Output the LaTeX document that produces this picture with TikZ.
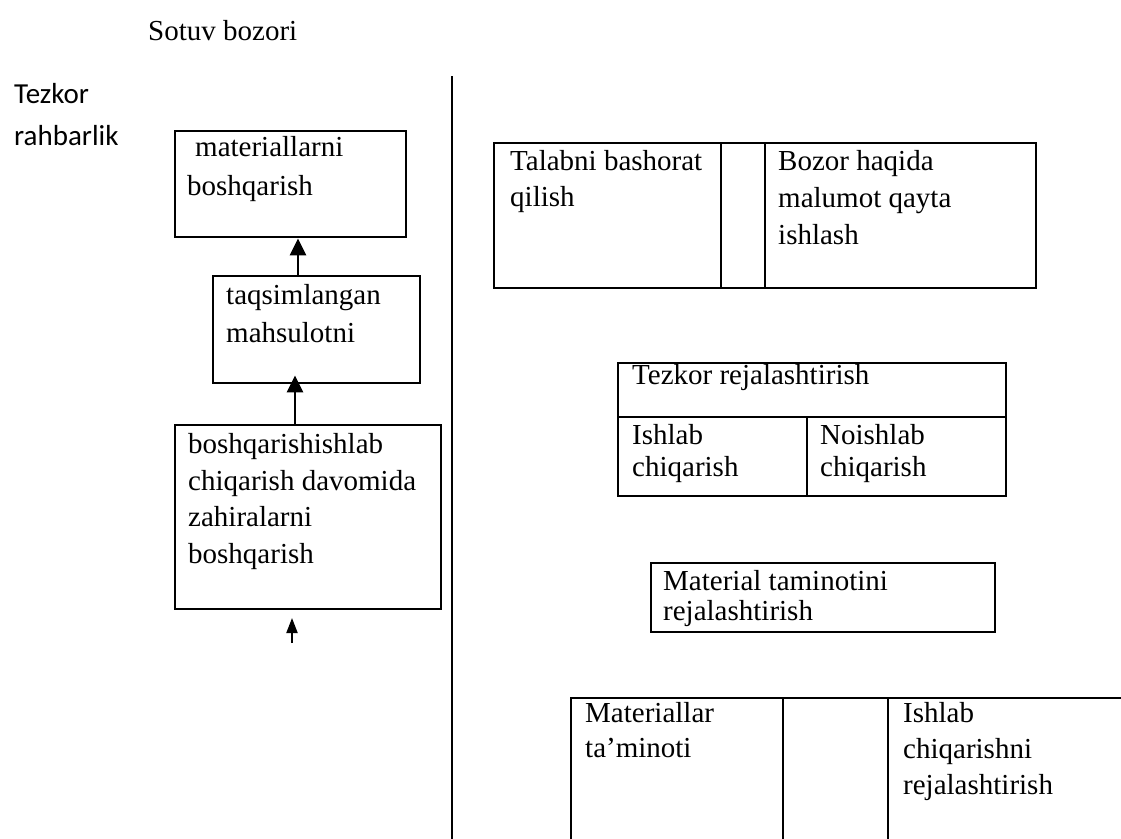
\documentclass[tikz,border=0pt]{standalone}
\usepackage{fontspec}
\setmainfont{Liberation Serif}
\newfontfamily\calibrifont{Carlito}
\usetikzlibrary{arrows.meta}
\tikzset{
  box/.style={draw, line width=2.4pt, rectangle, inner sep=0pt, anchor=north west},
  lbl/.style={anchor=base west, inner sep=0pt, font=\fontsize{29}{37}\selectfont},
  slbl/.style={anchor=base west, inner sep=0pt, font=\calibrifont\fontsize{29}{37}\selectfont},
  arr/.style={line width=2.4pt, -{Triangle[length=17pt,width=16pt]}},
  smallarr/.style={line width=2pt, -{Triangle[length=15pt,width=11pt]}},
  rule/.style={line width=2.4pt}
}
\begin{document}
\begin{tikzpicture}[x=1pt,y=-1pt]
\useasboundingbox (0,0) rectangle (1121,838);
\clip (0,0) rectangle (1121,838);
% titles
\node[lbl] (sotuv) at (148,40) {Sotuv bozori};
\node[slbl] (tz1) at (14,103) {Tezkor};
\node[slbl] (tz2) at (14,145) {rahbarlik};
% vertical divider
\coordinate (vtop) at (452,76);
\coordinate (vbot) at (452,840);
\draw[rule] (vtop) -- (vbot);
% left column boxes
\node[box, minimum width=231pt, minimum height=106pt] (b1) at (174,130) {};
\node[lbl] (b1a) at (195,156) {materiallarni};
\node[lbl] (b1b) at (187,195) {boshqarish};
\node[box, minimum width=207pt, minimum height=107pt] (b2) at (212,275) {};
\node[lbl] (b2a) at (226,304) {taqsimlangan};
\node[lbl] (b2b) at (226,342) {mahsulotni};
\node[box, minimum width=266pt, minimum height=184pt] (b3) at (174,424) {};
\node[lbl] (b3a) at (188,453) {boshqarishishlab};
\node[lbl] (b3b) at (188,490) {chiqarish davomida};
\node[lbl] (b3c) at (188,526) {zahiralarni};
\node[lbl] (b3d) at (188,563) {boshqarish};
% arrows
\coordinate (ax1) at (298,0);
\coordinate (ax2) at (295,0);
\draw[arr] (b2.north -| ax1) -- (b1.south -| ax1);
\draw[arr] (b3.north -| ax2) -- ([yshift=9pt]b2.south -| ax2);
\coordinate (a3s) at (292,643);
\coordinate (a3e) at (292,618);
\draw[smallarr] (a3s) -- (a3e);
% right: table A
\node[box, minimum width=227pt, minimum height=145pt] (ca1) at (493,142) {};
\node[box, minimum width=44pt, minimum height=145pt] (ca2) at (720,142) {};
\node[box, minimum width=271pt, minimum height=145pt] (ca3) at (764,142) {};
\node[lbl] (ta1) at (510,170) {Talabni bashorat};
\node[lbl] (ta2) at (510,206) {qilish};
\node[lbl] (ta3) at (778,170) {Bozor haqida};
\node[lbl] (ta4) at (778,207) {malumot qayta};
\node[lbl] (ta5) at (778,244) {ishlash};
% Tezkor rejalashtirish table
\node[box, minimum width=388pt, minimum height=54pt] (cb1) at (617,362) {};
\node[box, minimum width=189pt, minimum height=79pt] (cb2) at (617,416) {};
\node[box, minimum width=199pt, minimum height=79pt] (cb3) at (806,416) {};
\node[lbl] (tb1) at (632,384) {Tezkor rejalashtirish};
\node[lbl] (tb2) at (632,444) {Ishlab};
\node[lbl] (tb3) at (632,476) {chiqarish};
\node[lbl] (tb4) at (820,444) {Noishlab};
\node[lbl] (tb5) at (820,476) {chiqarish};
% Material box
\node[box, minimum width=344pt, minimum height=69pt] (cc) at (650,562) {};
\node[lbl] (tc1) at (663,590) {Material taminotini};
\node[lbl] (tc2) at (663,620) {rejalashtirish};
% bottom table (cut off)
\node[box, minimum width=212pt, minimum height=170pt] (cd1) at (570,697) {};
\node[box, minimum width=105pt, minimum height=170pt] (cd2) at (782,697) {};
\node[box, minimum width=280pt, minimum height=170pt] (cd3) at (887,697) {};
\node[lbl] (td1) at (585,722) {Materiallar};
\node[lbl] (td2) at (585,757) {ta’minoti};
\node[lbl] (td3) at (903,722) {Ishlab};
\node[lbl] (td4) at (903,758) {chiqarishni};
\node[lbl] (td5) at (903,794) {rejalashtirish};
\end{tikzpicture}
\end{document}
